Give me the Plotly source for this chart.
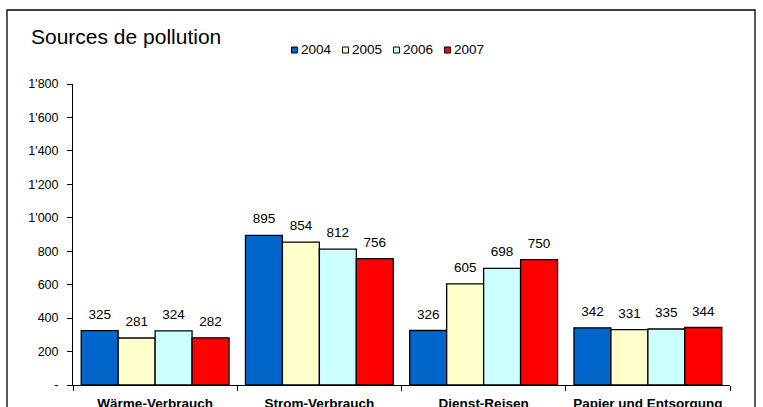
import plotly.graph_objects as go

categories = ["Wärme-Verbrauch", "Strom-Verbrauch", "Dienst-Reisen", "Papier und Entsorgung"]
years = ["2004", "2005", "2006", "2007"]
values_2004 = [325, 895, 326, 342]
values_2005 = [281, 854, 605, 331]
values_2006 = [324, 812, 698, 335]
values_2007 = [282, 756, 750, 344]
tick_vals = [0, 200, 400, 600, 800, 1000, 1200, 1400, 1600, 1800]
tick_text = ["-", "200", "400", "600", "800", "1'000", "1'200", "1'400", "1'600", "1'800"]

series = [values_2004, values_2005, values_2006, values_2007]
colors = ["#0066CC", "#FFFFCC", "#CCFFFF", "#FF0000"]

FONT = "Liberation Sans, Arial, sans-serif"
W, H = 763, 407
ml, mr, mt, mb = 73, 33, 84, 22
pw = W - ml - mr
ph = H - mt - mb


def px_x(px):
    return (px - ml) / pw


def px_y(py):
    return (H - mb - py) / ph


fig = go.Figure()
for name, vals, col in zip(years, series, colors):
    fig.add_trace(go.Bar(
        x=categories, y=vals, name=name, offsetgroup=name,
        marker=dict(color=col, line=dict(color="#000000", width=1.3)),
        showlegend=False, hoverinfo="x+y+name",
    ))
for name, vals in zip(years, series):
    fig.add_trace(go.Scatter(
        x=categories, y=vals, name=name, offsetgroup=name,
        mode="markers+text", marker=dict(size=12, opacity=0),
        text=[str(v) for v in vals], textposition="top center",
        textfont=dict(family=FONT, size=13.5, color="#000000"),
        cliponaxis=False, showlegend=False, hoverinfo="skip",
    ))

shapes = [dict(type="rect", xref="paper", yref="paper",
               x0=px_x(7), x1=px_x(755), y0=px_y(430), y1=px_y(10),
               line=dict(color="#000000", width=1.3), fillcolor="rgba(0,0,0,0)", layer="below")]
annotations = []
for i, (name, col) in enumerate(zip(years, colors)):
    sx = 291.5 + 51 * i
    shapes.append(dict(type="rect", xref="paper", yref="paper",
                       x0=px_x(sx), x1=px_x(sx + 6), y0=px_y(53), y1=px_y(47),
                       line=dict(color="#000000", width=1), fillcolor=col))
    annotations.append(dict(text=name, xref="paper", yref="paper", x=px_x(sx + 7.5), y=px_y(50),
                            xanchor="left", yanchor="middle", showarrow=False,
                            font=dict(family=FONT, size=13.5, color="#000000")))

fig.update_layout(
    width=W, height=H,
    margin=dict(l=ml, r=mr, t=mt, b=mb, autoexpand=False),
    paper_bgcolor="white", plot_bgcolor="white",
    barmode="group", bargap=0.1, bargroupgap=0,
    scattermode="group", scattergap=0.1,
    font=dict(family=FONT, color="#000000"),
    title=dict(text="Sources de pollution", x=31 / W, xanchor="left", y=1 - 37 / H, yanchor="middle",
               font=dict(size=21, family=FONT, color="#000000")),
    showlegend=False,
    shapes=shapes,
    annotations=annotations,
)
fig.update_yaxes(range=[0, 1800], tickvals=tick_vals, ticktext=tick_text, showgrid=False,
                 showline=True, linecolor="#000000", linewidth=1, ticks="outside", ticklen=5,
                 tickcolor="#000000", tickfont=dict(size=12.5, family=FONT), zeroline=False,
                 ticklabelstandoff=6)
fig.update_xaxes(showgrid=False, showline=True, linecolor="#000000", linewidth=1,
                 ticks="outside", ticklen=5, tickson="boundaries", tickcolor="#000000",
                 ticklabelstandoff=6,
                 tickfont=dict(size=13.5, family=FONT, weight="bold"))

fig.write_html("out.html", config={"displayModeBar": False},
               post_script="document.body.style.margin='0';document.body.style.overflow='hidden';")
